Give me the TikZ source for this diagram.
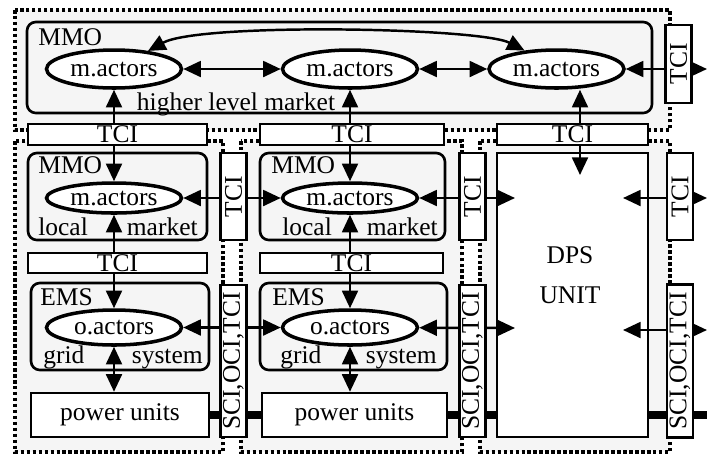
\documentclass[tikz,border=0pt]{standalone}
\usepackage{fontspec}
\setmainfont{Liberation Serif}
\usetikzlibrary{arrows.meta,positioning,shapes.geometric,calc}
\pgfdeclarelayer{bg}
\pgfdeclarelayer{wires}
\pgfsetlayers{bg,wires,main}

\begin{document}
\begin{tikzpicture}[
        font=\fontsize{14.5}{17}\selectfont,
        >={Triangle[length=10pt,width=9pt]},
        zone/.style={draw, line width=2pt, dash pattern=on 2pt off 1.4pt, fill=black!4},
        grp/.style={draw, line width=1.5pt, rounded corners=5pt, minimum height=1.74cm},
        actor/.style={ellipse, draw, line width=2pt, fill=white, inner sep=0pt,
                   minimum width=2.7cm},
        tci/.style={draw, line width=1.4pt, fill=white, inner sep=0pt, minimum height=0.42cm},
        vtci/.style={tci, rotate=90, minimum height=0.52cm},
        unitbox/.style={draw, line width=1.4pt, fill=white, inner sep=0pt},
        tag/.style={inner sep=0pt, anchor=base west},
        link/.style={<->, line width=1.4pt},
        bus/.style={line width=4.5pt},
    ]
        \useasboundingbox (0,0) rectangle (14.14,-9.08);
        % Dotted zones and the DPS unit.
        \begin{pgfonlayer}{bg}
            \draw[zone] (0.30,-0.20) rectangle (13.40,-2.60);
            \draw[zone] (0.30,-2.82) rectangle (4.46,-9.04);
            \draw[zone] (4.82,-2.82) rectangle (9.24,-9.04);
            \draw[zone] (9.60,-2.82) rectangle (13.40,-9.04);
            \node[unitbox, minimum width=3.02cm, minimum height=5.68cm] (dps) at (11.45,-5.90) {};
        \end{pgfonlayer}
        \node[align=center, font=\fontsize{14.5}{23}\selectfont] (dpsTxt) at (11.40,-5.50) {DPS\\UNIT};
        % Higher level market.
        \node[grp, minimum width=12.5cm, minimum height=1.82cm] (hlm) at (6.79,-1.35) {};
        \node[tag] (hlmTag) at (0.76,-0.90) {MMO};
        \node[actor, minimum height=0.76cm] (ma1) at (2.28,-1.38) {m.actors};
        \node[actor, minimum height=0.76cm] (ma2) at (7.00,-1.38) {m.actors};
        \node[actor, minimum height=0.76cm] (ma3) at (11.13,-1.38) {m.actors};
        \node[tag, anchor=base] (hlmTxt) at (4.72,-2.20) {higher level market};
        \node[tci, minimum width=3.58cm] (tci1) at (2.35,-2.69) {TCI};
        \node[tci, minimum width=3.68cm] (tci2) at (7.04,-2.69) {TCI};
        \node[tci, minimum width=3.02cm] (tci3) at (11.45,-2.69) {TCI};
        \node[vtci, minimum width=1.56cm] (tci0) at (13.57,-1.28) {TCI};
        % Local markets.
        \node[grp, minimum width=3.58cm] (lm1) at (2.35,-3.93) {};
        \node[tag] (lm1Tag) at (0.76,-3.46) {MMO};
        \node[actor, minimum height=0.6cm] (la1) at (2.28,-3.96) {m.actors};
        \node[tag] (lm1L) at (0.76,-4.70) {local};
        \node[tag, anchor=base east] (lm1R) at (3.96,-4.70) {market};
        \node[grp, minimum width=3.70cm] (lm2) at (7.05,-3.93) {};
        \node[tag] (lm2Tag) at (5.42,-3.46) {MMO};
        \node[actor, minimum height=0.6cm] (la2) at (7.00,-3.96) {m.actors};
        \node[tag] (lm2L) at (5.64,-4.70) {local};
        \node[tag, anchor=base east] (lm2R) at (8.76,-4.70) {market};
        \node[tci, minimum width=3.58cm, minimum height=0.40cm] (tci4) at (2.35,-5.26) {TCI};
        \node[tci, minimum width=3.66cm, minimum height=0.40cm] (tci5) at (7.03,-5.26) {TCI};
        % Grid systems and power units.
        \node[grp, minimum width=3.56cm] (gs1) at (2.40,-6.53) {};
        \node[tag] (gs1Tag) at (0.80,-6.10) {EMS};
        \node[actor, minimum height=0.7cm] (oa1) at (2.28,-6.55) {o.actors};
        \node[tag] (gs1L) at (0.86,-7.26) {grid};
        \node[tag, anchor=base east] (gs1R) at (4.06,-7.26) {system};
        \node[unitbox, minimum width=3.56cm, minimum height=0.88cm] (pu1) at (2.40,-8.30) {power units};
        \node[grp, minimum width=3.74cm] (gs2) at (7.07,-6.53) {};
        \node[tag] (gs2Tag) at (5.44,-6.10) {EMS};
        \node[actor, minimum height=0.7cm] (oa2) at (7.00,-6.55) {o.actors};
        \node[tag] (gs2L) at (5.60,-7.26) {grid};
        \node[tag, anchor=base east] (gs2R) at (8.74,-7.26) {system};
        \node[unitbox, minimum width=3.70cm, minimum height=0.88cm] (pu2) at (7.09,-8.30) {power units};
        % Interfaces between the zones.
        \node[vtci, minimum width=1.74cm] (tci6) at (4.67,-3.93) {TCI};
        \node[vtci, minimum width=1.74cm] (tci7) at (9.45,-3.93) {TCI};
        \node[vtci, minimum width=1.74cm] (tci8) at (13.60,-3.93) {TCI};
        \node[vtci, minimum width=3.04cm] (ifc1) at (4.67,-7.22) {SCI,OCI,TCI};
        \node[vtci, minimum width=3.04cm] (ifc2) at (9.45,-7.22) {SCI,OCI,TCI};
        \node[vtci, minimum width=3.06cm] (ifc3) at (13.60,-7.22) {SCI,OCI,TCI};
        \coordinate (dpsIn) at (11.60,-3.50);
        \coordinate (dpsL1) at (10.30,-3.96);
        \coordinate (dpsR1) at (12.46,-3.96);
        \coordinate (dpsL2) at (10.30,-6.56);
        \coordinate (dpsR2) at (12.46,-6.60);
        \coordinate (edgeA) at (14.14,-1.38);
        \coordinate (edgeB) at (14.14,-3.96);
        \coordinate (edgeC) at (14.14,-6.60);
        \coordinate (edgeD) at (14.14,-8.30);
        % Connectors.
        \begin{pgfonlayer}{wires}
            \draw[link] (ma1) -- (ma2);
            \draw[link] (ma2) -- (ma3);
            \draw[link] (ma3) -- (edgeA);
            \draw[link] (ma1.28) .. controls (4.0,-0.45) and (9.6,-0.55) .. (ma3.150);
            \draw[link] (ma1) -- (la1);
            \draw[link] (la1) -- (oa1);
            \draw[link] (oa1) -- (oa1 |- pu1.north);
            \draw[link] (ma2) -- (la2);
            \draw[link] (la2) -- (oa2);
            \draw[link] (oa2) -- (oa2 |- pu2.north);
            \draw[link] (dpsIn) -- (dpsIn |- ma3.south);
            \draw[link] (la1) -- (la2);
            \draw[link] (la2) -- (dpsL1);
            \draw[link] (dpsR1) -- (edgeB);
            \draw[link] (oa1) -- (oa2);
            \draw[link] (oa2) -- (dpsL2);
            \draw[link] (dpsR2) -- (edgeC);
            \draw[bus] (pu1) -- (pu2);
            \draw[bus] (pu2) -- (pu2 -| dps.west);
            \draw[bus] (edgeD -| dps.east) -- (edgeD);
        \end{pgfonlayer}
    \end{tikzpicture}
\end{document}
